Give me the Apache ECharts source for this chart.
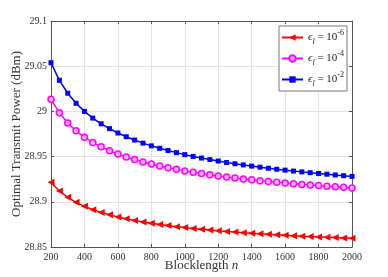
<!DOCTYPE html>
<html><head><meta charset="utf-8">
<script src="https://cdn.jsdelivr.net/npm/echarts@6/dist/echarts.min.js"></script>
<style>html,body{margin:0;padding:0;background:#fff}#c{width:388px;height:277px}</style>
</head><body><div id="c"></div>
<script>
var blocklength = [200,250,300,350,400,450,500,550,600,650,700,750,800,850,900,950,1000,1050,1100,1150,1200,1250,1300,1350,1400,1450,1500,1550,1600,1650,1700,1750,1800,1850,1900,1950,2000];
var eps6 = [28.9215,28.9120,28.9049,28.8994,28.8950,28.8913,28.8882,28.8856,28.8833,28.8812,28.8794,28.8777,28.8763,28.8749,28.8737,28.8725,28.8715,28.8705,28.8696,28.8687,28.8680,28.8672,28.8665,28.8658,28.8652,28.8646,28.8641,28.8635,28.8630,28.8625,28.8620,28.8616,28.8612,28.8608,28.8604,28.8600,28.8596];
var eps4 = [29.0135,28.9984,28.9872,28.9785,28.9715,28.9657,28.9608,28.9566,28.9529,28.9496,28.9467,28.9441,28.9418,28.9396,28.9377,28.9359,28.9342,28.9326,28.9312,28.9299,28.9286,28.9274,28.9263,28.9253,28.9243,28.9233,28.9224,28.9216,28.9208,28.9200,28.9192,28.9185,28.9179,28.9172,28.9166,28.9160,28.9154];
var eps2 = [29.0538,29.0344,29.0201,29.0090,29.0000,28.9926,28.9863,28.9809,28.9761,28.9720,28.9683,28.9649,28.9619,28.9592,28.9567,28.9544,28.9522,28.9502,28.9484,28.9467,28.9451,28.9435,28.9421,28.9408,28.9395,28.9383,28.9371,28.9360,28.9350,28.9340,28.9331,28.9322,28.9313,28.9305,28.9297,28.9289,28.9281];
var seriesNames = ['e6','e4','e2'];
var exponents = ['-6','-4','-2'];

function pairs(v){ return blocklength.map(function(n,i){ return [n, v[i]]; }); }
var FONT = '"Liberation Serif", "DejaVu Serif", serif';
var axisLine = {show:true, lineStyle:{color:'#555', width:1}};
var chart = echarts.init(document.getElementById('c'), null, {renderer:'canvas'});
chart.setOption({
  animation:false,
  backgroundColor:'#fff',
  grid:{left:51, right:36, top:21, bottom:30, containLabel:false, outerBoundsMode:'none'},
  legend:{
    orient:'vertical', left:279, top:26,
    padding:[3,3,3,2], itemGap:4,
    itemWidth:21, itemHeight:8,
    backgroundColor:'#fff', borderColor:'#777', borderWidth:1,
    data:seriesNames,
    formatter:function(name){ var k = seriesNames.indexOf(name); return '{e|ϵ}{s|l}{t| = 10}{p|' + exponents[k] + '}'; },
    textStyle:{
      fontFamily:FONT, color:'#222', fontSize:11,
      rich:{
        e:{fontFamily:FONT, fontStyle:'italic', fontSize:11, lineHeight:17, color:'#222'},
        s:{fontFamily:FONT, fontStyle:'italic', fontSize:8, lineHeight:8, verticalAlign:'bottom', color:'#222'},
        t:{fontFamily:FONT, fontSize:11, lineHeight:17, color:'#222'},
        p:{fontFamily:FONT, fontSize:8, lineHeight:8, verticalAlign:'top', color:'#222'}
      }
    }
  },
  xAxis:[{
    type:'value', min:200, max:2000, interval:200,
    name:'Blocklength {i|n}', nameLocation:'middle', nameGap:12, nameMoveOverlap:false,
    nameTextStyle:{fontFamily:FONT, fontSize:13, color:'#333', rich:{i:{fontFamily:FONT, fontStyle:'italic', fontSize:13, color:'#333'}}},
    axisLine:axisLine, axisTick:{show:true, inside:true, length:3, lineStyle:{color:'#555'}},
    axisLabel:{fontFamily:FONT, fontSize:10, color:'#333', margin:5, formatter:function(v){ return String(v); }},
    splitLine:{show:true, lineStyle:{color:'#e3e3e3', width:1}}
  },{
    type:'value', position:'top', min:200, max:2000, interval:200,
    axisLine:axisLine, axisTick:{show:true, inside:true, length:3, lineStyle:{color:'#555'}},
    axisLabel:{show:false}, splitLine:{show:false}
  }],
  yAxis:[{
    type:'value', min:28.85, max:29.1, interval:0.05,
    name:'Optimal Transmit Power (dBm)', nameLocation:'middle', nameGap:28, nameMoveOverlap:false,
    nameTextStyle:{fontFamily:FONT, fontSize:13, color:'#333'},
    axisLine:axisLine, axisTick:{show:true, inside:true, length:3, lineStyle:{color:'#555'}},
    axisLabel:{fontFamily:FONT, fontSize:10, color:'#333', margin:4, formatter:function(v){ return String(Math.round(v*100)/100); }},
    splitLine:{show:true, lineStyle:{color:'#e3e3e3', width:1}}
  },{
    type:'value', position:'right', min:28.85, max:29.1, interval:0.05,
    axisLine:axisLine, axisTick:{show:true, inside:true, length:3, lineStyle:{color:'#555'}},
    axisLabel:{show:false}, splitLine:{show:false}
  }],
  series:[
    {name:'e6', type:'line', data:pairs(eps6), symbol:'triangle', symbolRotate:90, symbolSize:7,
     lineStyle:{color:'#ff0000', width:1.5}, itemStyle:{color:'#ff0000'}},
    {name:'e4', type:'line', data:pairs(eps4), symbol:'circle', symbolSize:6,
     lineStyle:{color:'#ff00ff', width:1.5}, itemStyle:{color:'#ffb3ff', borderColor:'#ff00ff', borderWidth:1.5}},
    {name:'e2', type:'line', data:pairs(eps2), symbol:'rect', symbolSize:5,
     lineStyle:{color:'#0000ff', width:1.5}, itemStyle:{color:'#0000ff'}}
  ]
});
</script></body></html>
